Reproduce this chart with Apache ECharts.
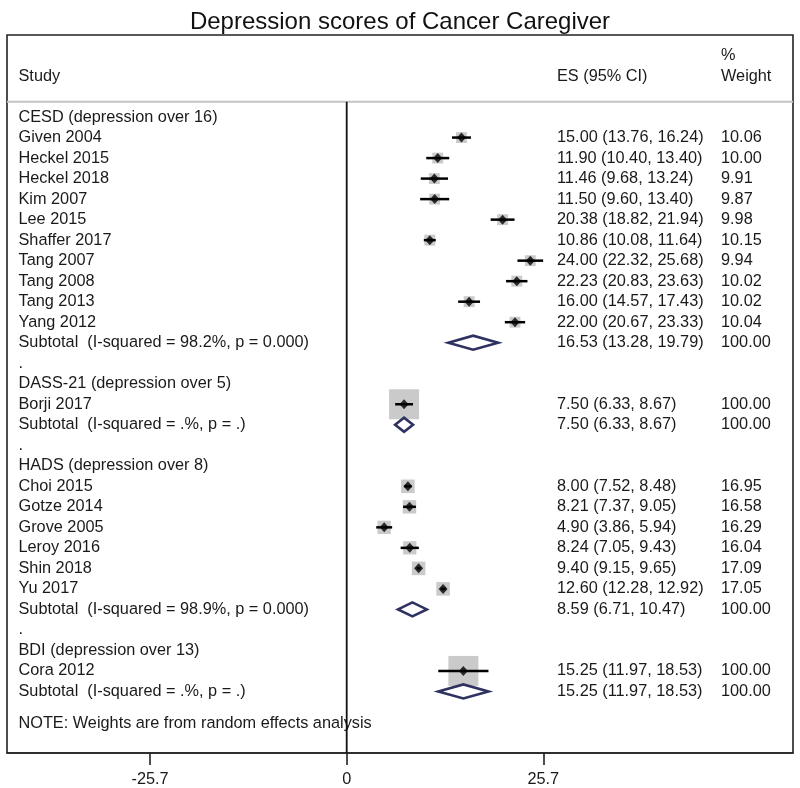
<!DOCTYPE html>
<html><head><meta charset="utf-8">
<script src="https://cdn.jsdelivr.net/npm/echarts@6/dist/echarts.min.js"></script>
<style>html,body{margin:0;padding:0;background:#fff}#c{width:800px;height:788px}</style>
</head><body><div id="c"></div>
<script>
// ---------------- data ----------------
const chartTitle = "Depression scores of Cancer Caregiver";
const headerStudy = "Study";
const headerES = "ES (95% CI)";
const headerWeight = ["%", "Weight"];
const noteText = "NOTE: Weights are from random effects analysis";
const tickValues = [-25.7, 0, 25.7];

const rowLabels = [
  "CESD (depression over 16)",
  "Given 2004", "Heckel 2015", "Heckel 2018", "Kim 2007", "Lee 2015",
  "Shaffer 2017", "Tang 2007", "Tang 2008", "Tang 2013", "Yang 2012",
  "Subtotal  (I-squared = 98.2%, p = 0.000)",
  ".",
  "DASS-21 (depression over 5)",
  "Borji 2017",
  "Subtotal  (I-squared = .%, p = .)",
  ".",
  "HADS (depression over 8)",
  "Choi 2015", "Gotze 2014", "Grove 2005", "Leroy 2016", "Shin 2018", "Yu 2017",
  "Subtotal  (I-squared = 98.9%, p = 0.000)",
  ".",
  "BDI (depression over 13)",
  "Cora 2012",
  "Subtotal  (I-squared = .%, p = .)"
];
const rowKinds = [
  "group",
  "study","study","study","study","study","study","study","study","study","study",
  "subtotal",
  "gap",
  "group",
  "study",
  "subtotal",
  "gap",
  "group",
  "study","study","study","study","study","study",
  "subtotal",
  "gap",
  "group",
  "study",
  "subtotal"
];
const rowES = [null,
  15.00, 11.90, 11.46, 11.50, 20.38, 10.86, 24.00, 22.23, 16.00, 22.00,
  16.53, null, null,
  7.50, 7.50, null, null,
  8.00, 8.21, 4.90, 8.24, 9.40, 12.60,
  8.59, null, null,
  15.25, 15.25];
const rowLow = [null,
  13.76, 10.40, 9.68, 9.60, 18.82, 10.08, 22.32, 20.83, 14.57, 20.67,
  13.28, null, null,
  6.33, 6.33, null, null,
  7.52, 7.37, 3.86, 7.05, 9.15, 12.28,
  6.71, null, null,
  11.97, 11.97];
const rowHigh = [null,
  16.24, 13.40, 13.24, 13.40, 21.94, 11.64, 25.68, 23.63, 17.43, 23.33,
  19.79, null, null,
  8.67, 8.67, null, null,
  8.48, 9.05, 5.94, 9.43, 9.65, 12.92,
  10.47, null, null,
  18.53, 18.53];
const rowWeight = [null,
  10.06, 10.00, 9.91, 9.87, 9.98, 10.15, 9.94, 10.02, 10.02, 10.04,
  100.00, null, null,
  100.00, 100.00, null, null,
  16.95, 16.58, 16.29, 16.04, 17.09, 17.05,
  100.00, null, null,
  100.00, 100.00];

// ---------------- layout / style ----------------
const FONT = "'Liberation Sans', Arial, sans-serif";
const FS = 16.3;
const TXT = '#1a1a1a';
const FRAME = '#222';
const COL_STUDY = 18.5, COL_ES = 557, COL_W = 721;
const ROW_MIN = -4, ROW_MAX = 31;
const SEP_ROW = -0.75, NOTE_ROW = 29.55;
const X_MIN = -44.405, X_MAX = 58.34;

const studyIdx = [], subIdx = [];
rowKinds.forEach((k, i) => { if (k === 'study') studyIdx.push(i); if (k === 'subtotal') subIdx.push(i); });

function fmt(v) { return v.toFixed(2); }

function txt(x, y, s) {
  return { type: 'text', x: x, y: y, silent: true,
    style: { text: s, fill: TXT, font: FS + 'px ' + FONT, align: 'left', verticalAlign: 'middle' } };
}

const textRows = rowLabels.map((_, i) => [0, i]);
textRows.push([0, -2]); // header
textRows.push([0, NOTE_ROW]); // note

const chart = echarts.init(document.getElementById('c'), null, { renderer: 'canvas' });
chart.setOption({
  animation: false,
  backgroundColor: '#fff',
  title: {
    text: chartTitle, left: 'center', top: 5,
    textStyle: { fontFamily: FONT, fontSize: 24, fontWeight: 'normal', color: '#111' }
  },
  grid: { left: 7, right: 7, top: 35, bottom: 35, show: true, borderColor: FRAME, borderWidth: 1.6, backgroundColor: '#fff' },
  xAxis: {
    type: 'value', min: X_MIN, max: X_MAX, position: 'bottom',
    splitLine: { show: false },
    axisLine: { show: true, onZero: false, lineStyle: { color: FRAME, width: 1.6 } },
    axisTick: { show: true, customValues: tickValues, length: 12, lineStyle: { color: FRAME, width: 1.6 } },
    axisLabel: { show: true, customValues: tickValues, margin: 19, color: TXT, fontFamily: FONT, fontSize: FS,
      formatter: v => String(v) }
  },
  yAxis: {
    type: 'value', inverse: true, min: ROW_MIN, max: ROW_MAX, show: false,
    axisLine: { onZero: false }, splitLine: { show: false }
  },
  series: [
    { // weight squares
      type: 'scatter', symbol: 'rect',
      data: studyIdx.map(i => [rowES[i], i, rowWeight[i]]),
      symbolSize: v => 2.8 * Math.sqrt(v[2]) + 2,
      itemStyle: { color: '#bdbdbd' }, silent: true, z: 2
    },
    { // CI lines
      type: 'custom', z: 3, silent: true,
      data: studyIdx.map(i => [rowES[i], i, rowLow[i], rowHigh[i]]),
      encode: { x: 0, y: 1 },
      renderItem: (params, api) => {
        const a = api.coord([api.value(2), api.value(1)]);
        const b = api.coord([api.value(3), api.value(1)]);
        return { type: 'line', shape: { x1: a[0], y1: a[1], x2: b[0], y2: b[1] },
          style: { stroke: '#000', lineWidth: 2.5 } };
      }
    },
    { // point estimates
      type: 'scatter', symbol: 'diamond', symbolSize: [9, 10], z: 4, silent: true,
      data: studyIdx.map(i => [rowES[i], i]),
      itemStyle: { color: '#000' }
    },
    { // subtotal diamonds
      type: 'custom', z: 4, silent: true,
      data: subIdx.map(i => [rowES[i], i, rowLow[i], rowHigh[i]]),
      encode: { x: 0, y: 1 },
      renderItem: (params, api) => {
        const c = api.coord([api.value(0), api.value(1)]);
        const l = api.coord([api.value(2), api.value(1)]);
        const r = api.coord([api.value(3), api.value(1)]);
        const h = 7;
        return { type: 'polygon',
          shape: { points: [[l[0], c[1]], [c[0], c[1] - h], [r[0], c[1]], [c[0], c[1] + h]] },
          style: { fill: 'none', stroke: '#2f3261', lineWidth: 2.6 } };
      }
    },
    { // text columns
      type: 'custom', z: 5, silent: true,
      data: textRows,
      encode: { x: 0, y: 1 },
      renderItem: (params, api) => {
        const idx = params.dataIndex;
        const i = api.value(1);
        const y = api.coord([0, i])[1];
        const children = [];
        if (idx < rowLabels.length) {
          children.push(txt(COL_STUDY, y, rowLabels[idx]));
          if (rowES[idx] != null) {
            children.push(txt(COL_ES, y, fmt(rowES[idx]) + ' (' + fmt(rowLow[idx]) + ', ' + fmt(rowHigh[idx]) + ')'));
            children.push(txt(COL_W, y, fmt(rowWeight[idx])));
          }
        } else if (idx === rowLabels.length) {
          const y0 = api.coord([0, -3])[1];
          children.push(txt(COL_STUDY, y, headerStudy));
          children.push(txt(COL_ES, y, headerES));
          children.push(txt(COL_W, y0, headerWeight[0]));
          children.push(txt(COL_W, y, headerWeight[1]));
        } else {
          children.push(txt(COL_STUDY, y, noteText));
        }
        return { type: 'group', children: children };
      }
    },
    { // header separator and null line
      type: 'custom', z: 6, silent: true,
      data: [[0, SEP_ROW]],
      encode: { x: 0, y: 1 },
      renderItem: (params, api) => {
        const l = api.coord([X_MIN, SEP_ROW]);
        const r = api.coord([X_MAX, SEP_ROW]);
        const t = api.coord([0, SEP_ROW]);
        const b = api.coord([0, ROW_MAX]);
        return { type: 'group', children: [
          { type: 'line', shape: { x1: l[0], y1: l[1], x2: r[0], y2: r[1] }, style: { stroke: '#c4c4c4', lineWidth: 2 } },
          { type: 'line', shape: { x1: t[0], y1: t[1], x2: b[0], y2: b[1] }, style: { stroke: '#111', lineWidth: 1.8 } }
        ] };
      }
    }
  ]
});
</script>
</body></html>
